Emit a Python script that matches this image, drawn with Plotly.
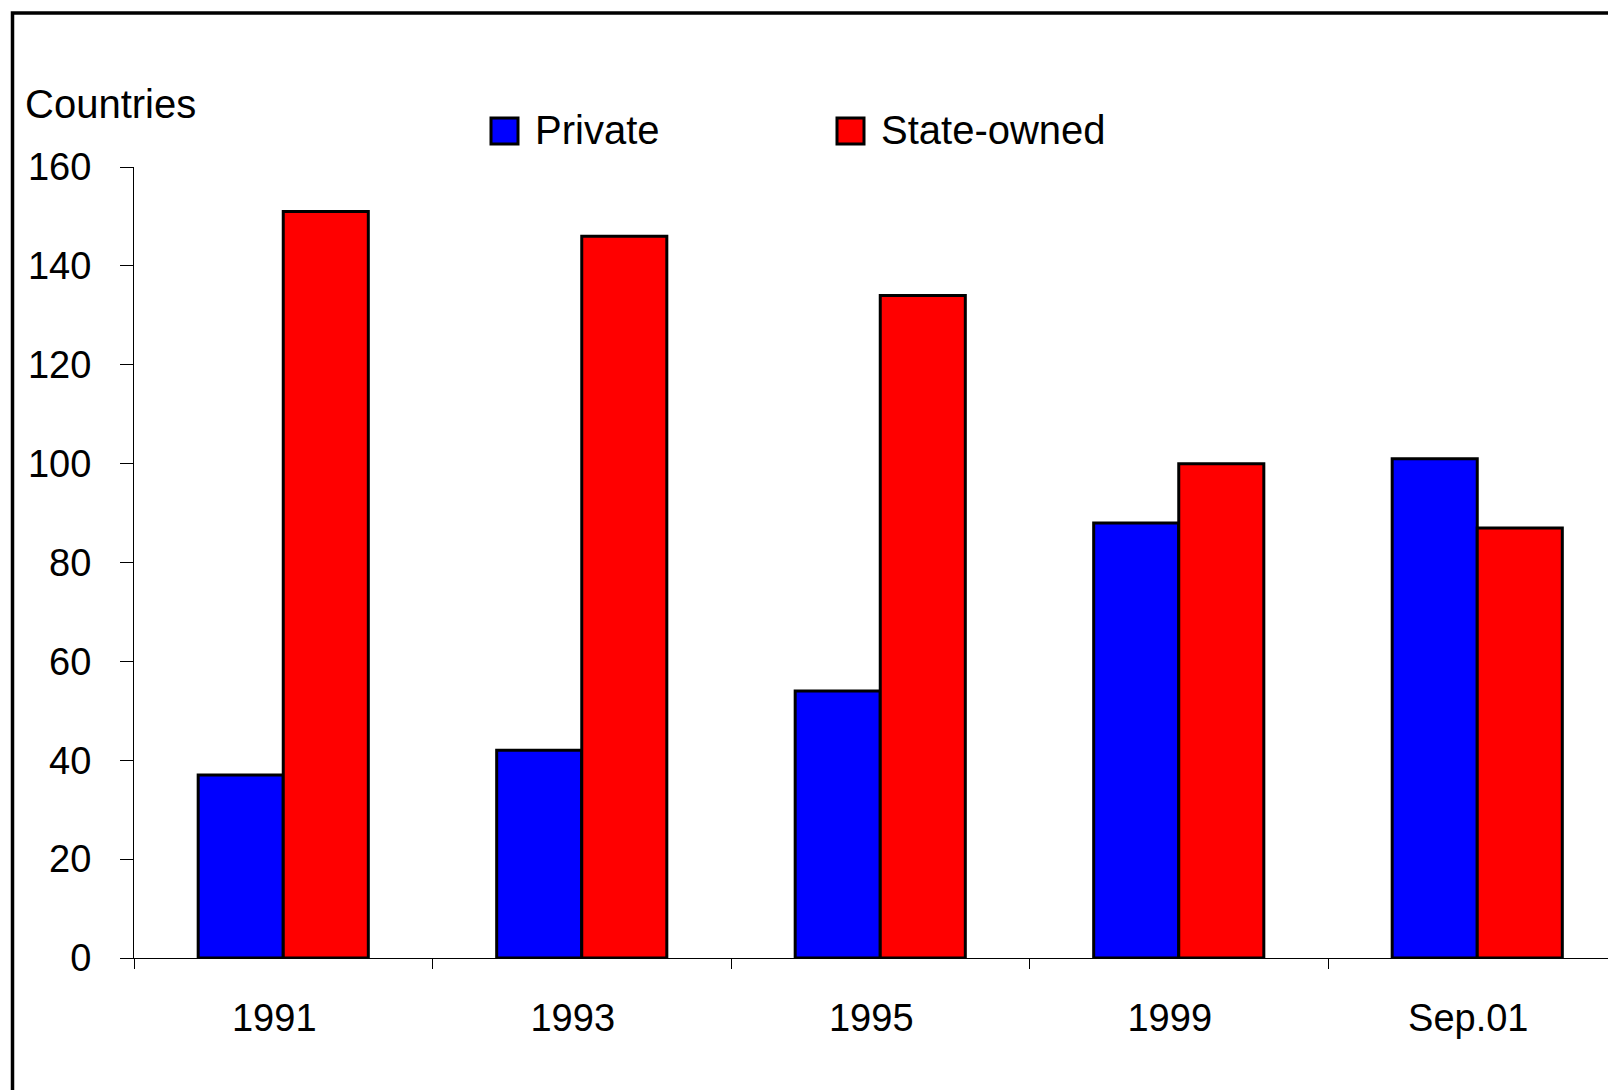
import plotly.graph_objects as go

# Number of countries with private vs state-owned operators
periods = ["1991", "1993", "1995", "1999", "Sep.01"]
private = [37, 42, 54, 88, 101]
state_owned = [151, 146, 134, 100, 87]
series_names = ["Private", "State-owned"]
series_colors = ["#0000ff", "#ff0000"]
y_title = "Countries"
y_ticks = [0, 20, 40, 60, 80, 100, 120, 140, 160]

W, H = 1608, 1090
ML, MR, MT, MB = 134, 0, 167, 132
PW, PH = W - ML - MR, H - MT - MB


def px_x(x):
    return (x - ML) / PW


def px_y(y):
    return 1 - (y - MT) / PH


FONT = "Liberation Sans, Arial, sans-serif"
TICK_SIZE = 38
TEXT_SIZE = 40

fig = go.Figure()
for name, vals, color in zip(series_names, [private, state_owned], series_colors):
    fig.add_trace(go.Bar(
        x=periods, y=vals, name=name,
        marker=dict(color=color, line=dict(color="black", width=3)),
        showlegend=False,
    ))

fig.update_layout(
    width=W, height=H,
    margin=dict(l=ML, r=MR, t=MT, b=MB),
    paper_bgcolor="white", plot_bgcolor="white",
    barmode="group", bargap=0.43, bargroupgap=0,
    font=dict(family=FONT, size=TICK_SIZE, color="black"),
)

fig.update_xaxes(
    type="category", range=[-0.5, -0.5 + PW / 298.5],
    showline=True, linecolor="black", linewidth=1,
    ticks="outside", tickson="boundaries", ticklen=10, tickcolor="black",
    tickwidth=1, showgrid=False, zeroline=False,
    ticklabelstandoff=26, ticklabelshift=-9,
    tickfont=dict(family=FONT, size=TICK_SIZE, color="black"),
)
fig.update_yaxes(
    range=[0, 160], tickvals=y_ticks,
    showline=True, linecolor="black", linewidth=1,
    ticks="outside", ticklen=13, tickcolor="black", tickwidth=1,
    showgrid=False, zeroline=False,
    ticklabelstandoff=21,
    tickfont=dict(family=FONT, size=TICK_SIZE, color="black"),
)

# Outer frame
fig.add_shape(type="rect", xref="paper", yref="paper",
              x0=px_x(12.5), x1=px_x(W + 20), y0=px_y(H + 20), y1=px_y(13),
              line=dict(color="black", width=3.5), fillcolor="rgba(0,0,0,0)",
              layer="above")

# Axis title
fig.add_annotation(text=y_title, xref="paper", yref="paper",
                   x=px_x(23), y=px_y(104), xanchor="left", yanchor="middle",
                   showarrow=False, font=dict(family=FONT, size=TEXT_SIZE, color="black"))

# Legend drawn as boxes with labels
legend_boxes = [(491, 518), (837, 864)]
legend_text_x = [533, 879]
for name, color, (bx0, bx1), tx in zip(series_names, series_colors, legend_boxes, legend_text_x):
    fig.add_shape(type="rect", xref="paper", yref="paper",
                  x0=px_x(bx0), x1=px_x(bx1), y0=px_y(144), y1=px_y(118),
                  line=dict(color="black", width=3), fillcolor=color)
    fig.add_annotation(text=name, xref="paper", yref="paper",
                       x=px_x(tx), y=px_y(130), xanchor="left", yanchor="middle",
                       showarrow=False,
                       font=dict(family=FONT, size=TEXT_SIZE, color="black"))

fig.write_html("out.html")
